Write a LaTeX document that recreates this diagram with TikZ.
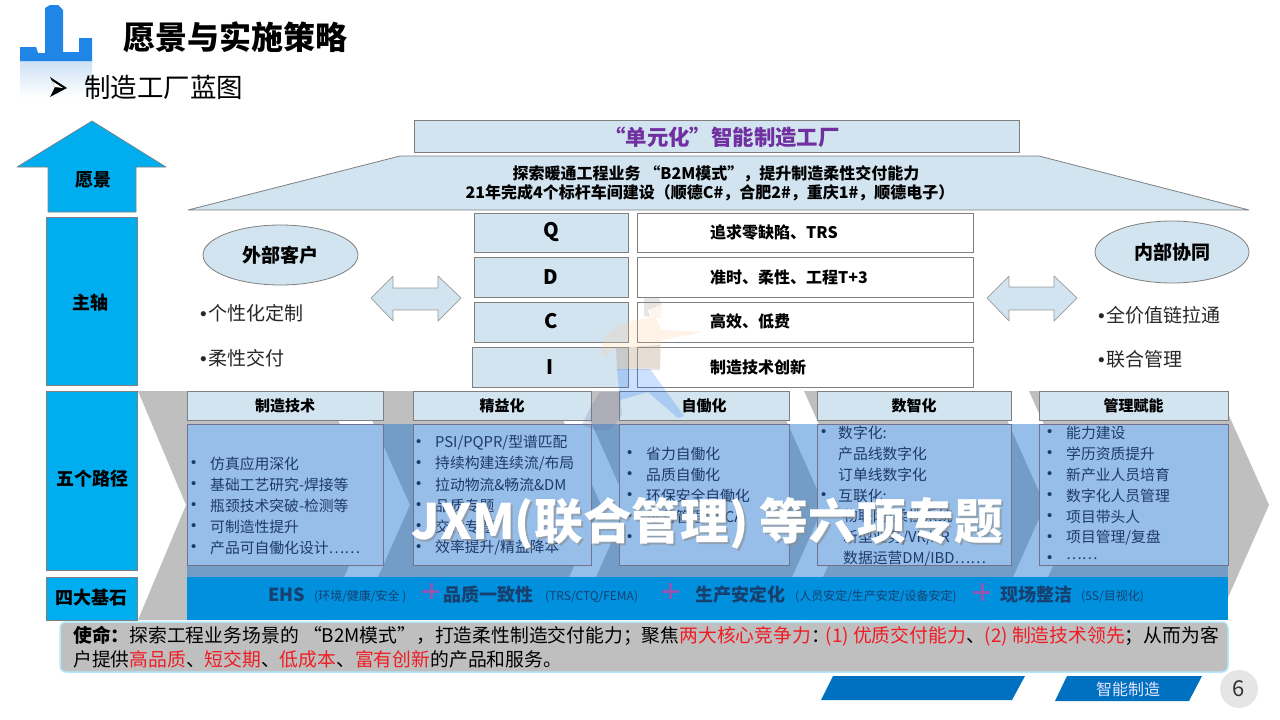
\documentclass[tikz,border=0pt]{standalone}
\usepackage{fontspec}
\setmainfont{Noto Sans CJK SC}
\newfontfamily\bulfont{Liberation Sans}
\usetikzlibrary{shapes.geometric,calc}
\definecolor{palebox}{HTML}{D2E4F0}
\definecolor{sky}{HTML}{00AEEF}
\definecolor{edgegray}{HTML}{7F7F7F}
\definecolor{chev}{HTML}{BFBFBF}
\definecolor{band}{RGB}{30,119,208}
\definecolor{listbox}{HTML}{96BEE8}
\definecolor{listtxt}{HTML}{1F3A68}
\definecolor{basefill}{HTML}{0090DE}
\definecolor{basetxt}{HTML}{17406F}
\definecolor{footblue}{HTML}{0070C0}
\definecolor{missred}{HTML}{F01C24}
\definecolor{titlepurple}{HTML}{7030A0}
\newcommand\fs[1]{\fontsize{#1}{#1}\selectfont}
\newcommand\bul{{\bulfont •}}
\newcounter{lino}
\newcommand\lstline[4]{\stepcounter{lino}%
  \ifx\relax#1\relax\else\node[listitem] (b\thelino) at (#1,#3) {\bul};\fi
  \node[listitem] (t\thelino) at (#2,#3) {#4};}
\tikzset{
  side/.style={draw=edgegray,line width=.7pt,fill=sky,inner sep=0},
  sidetxt/.style={inner sep=0,font=\fs{18}\bfseries,text=black},
  pale/.style={draw=edgegray,line width=.8pt,fill=palebox,inner sep=0,text=black},
  whitebox/.style={draw=edgegray,line width=.8pt,fill=white,inner sep=0},
  hdrbox/.style={pale,font=\fs{15}\bfseries},
  listbg/.style={draw=edgegray!90!blue,line width=.7pt,fill=listbox,inner sep=0},
  listitem/.style={anchor=west,inner sep=0,yshift=-.7pt,text=listtxt,font=\fs{14.8}},
  lbl/.style={inner sep=0,text=black},
  baseb/.style={anchor=west,inner sep=0,text=basetxt,font=\fs{18}\bfseries},
  bases/.style={anchor=west,inner sep=0,text=basetxt,font=\fs{12}},
  plusmark/.style={draw=none,fill={rgb,255:red,140;green,90;blue,180}},
  wm/.style={draw=none,opacity=.2},
  miss/.style={anchor=west,inner sep=0,text=black,font=\fs{18.8}},
  sidebul/.style={anchor=west,inner sep=0,font=\fs{19},text=black!85},
  qdcitxt/.style={anchor=west,inner sep=0,font=\fs{16}\bfseries},
  qletter/.style={inner sep=0,font=\fs{20}\bfseries,text=black},
}
\begin{document}
\begin{tikzpicture}[x=1pt,y=-1pt]
\useasboundingbox (0,0) rectangle (1280,720);
% logo
\shade[top color={rgb,255:red,205;green,225;blue,245},bottom color=white] (20,61) rectangle (92,98);
\fill[color={rgb,255:red,31;green,134;blue,232}] (20,47)--(36,47)--(38,53)--(45,53)--(45,8)--(50,5)--(58,5)--(63,10)--(63,52)--(79,52)--(79,38)--(92,38)--(92,61)--(20,61)--cycle;
% title
\node[anchor=west,inner sep=0,font=\fs{32}\bfseries] (title) at (123,37) {愿景与实施策略};
\fill[black] (50,77)--(67,88)--(50,97)--(55,87)--cycle;
\fill[white] (52,81)--(63,88)--(55,87)--cycle;
\node[anchor=west,inner sep=0,font=\fs{26.5}] (sub) at (84,87) {制造工厂蓝图};
% chevrons
\fill[chev] (138,391)--(325,391)--(376,505)--(325,620)--(138,620)--(186,505)--cycle;
\fill[chev] (359,391)--(550,391)--(601,505)--(550,620)--(359,620)--(410,505)--cycle;
\fill[chev] (577,391)--(773,391)--(824,505)--(773,620)--(577,620)--(628,505)--cycle;
\fill[chev] (804,391)--(994,391)--(1045,505)--(994,620)--(804,620)--(855,505)--cycle;
\fill[chev] (1029,391)--(1218,391)--(1269,505)--(1218,620)--(1029,620)--(1080,505)--cycle;
\fill[band,opacity=.47] (187,424) rectangle (1228,577);
% left column
\draw[draw=edgegray,line width=.7pt,fill=sky,line join=round] (92,121)--(166,167)--(136,167)--(136,212)--(48,212)--(48,167)--(17,167)--cycle;
\node[sidetxt] (vision) at (93,180) {愿景};
\node[side,minimum width=91,minimum height=168] (axis) at (91.5,301) {};
\node[sidetxt] (axist) at (90,302.5) {主轴};
\node[side,minimum width=91,minimum height=179] (paths) at (91.5,480.5) {};
\node[sidetxt] (pathst) at (92,478.5) {五个路径};
\node[side,minimum width=91,minimum height=43] (bases) at (91.5,598.5) {};
\node[sidetxt] (basest) at (91.5,598) {四大基石};
% top
\node[pale,minimum width=605,minimum height=32] (factory) at (716.5,136) {};
\node[inner sep=0,text=titlepurple,font=\fs{21.4}\bfseries] (factoryt) at (722,137) {“单元化”智能制造工厂};
\draw[draw=edgegray,line width=.8pt,fill=palebox,line join=round] (188,210)--(400,156)--(1039,156)--(1249,210)--cycle;
\node[lbl,font=\fs{16}\bfseries] (roofa) at (716,174) {探索暖通工程业务 “B2M模式”，提升制造柔性交付能力};
\node[lbl,font=\fs{16}\bfseries] (roofb) at (710,193) {21年完成4个标杆车间建设（顺德C\#，合肥2\#，重庆1\#，顺德电子）};
% QDCI
\node[pale,minimum width=154,minimum height=39] (q) at (551,232.5) {};
\node[pale,minimum width=154,minimum height=40] (d) at (551,277) {};
\node[pale,minimum width=154,minimum height=40] (c) at (551,322) {};
\node[pale,minimum width=156,minimum height=40] (i) at (550,367) {};
\node[qletter] (qa) at (551,232) {Q};
\node[qletter] (da) at (551,277) {D};
\node[qletter] (ca) at (551,321) {C};
\node[qletter] (ia) at (550,367) {I};
\node[whitebox,minimum width=336,minimum height=39] (qw) at (805,232.5) {};
\node[whitebox,minimum width=336,minimum height=40] (dw) at (805,277) {};
\node[whitebox,minimum width=336,minimum height=40] (cw) at (805,322) {};
\node[whitebox,minimum width=336,minimum height=40] (iw) at (805,367) {};
\node[qdcitxt] (qt) at (710,232) {追求零缺陷、TRS};
\node[qdcitxt] (dt) at (710,277) {准时、柔性、工程T+3};
\node[qdcitxt] (ct) at (710,321) {高效、低费};
\node[qdcitxt] (it) at (710,367) {制造技术创新};
% ellipses
\node[ellipse,pale,minimum width=155,minimum height=60,font=\fs{19}\bfseries] (ext) at (280.5,255) {外部客户};
\node[ellipse,pale,minimum width=154,minimum height=62,font=\fs{19}\bfseries] (int) at (1172,252) {内部协同};
% double arrows
\draw[draw=edgegray!80,line width=.7pt,fill=palebox,line join=round] (371,298)--(393,276)--(393,288)--(438,288)--(438,276)--(461,298)--(438,321)--(438,310)--(393,310)--(393,321)--cycle;
\draw[draw=edgegray!80,line width=.7pt,fill=palebox,line join=round] (987,298)--(1009,276)--(1009,287)--(1054,287)--(1054,276)--(1077,298)--(1054,321)--(1054,310)--(1009,310)--(1009,321)--cycle;
% bullets beside
\node[sidebul] (e1) at (200,313) {\bul\hspace{1.2pt}个性化定制};
\node[sidebul] (e2) at (200,358) {\bul\hspace{1.2pt}柔性交付};
\node[sidebul] (n1) at (1098,315) {\bul\hspace{1.2pt}全价值链拉通};
\node[sidebul] (n2) at (1098,359) {\bul\hspace{1.2pt}联合管理};
% headers
\node[hdrbox,minimum width=196,minimum height=29] (h1) at (285,405.5) {制造技术};
\node[hdrbox,minimum width=178,minimum height=29] (h2) at (502,405.5) {精益化};
\node[hdrbox,minimum width=170,minimum height=29] (h3) at (704,405.5) {自働化};
\node[hdrbox,minimum width=194,minimum height=29] (h4) at (914,405.5) {数智化};
\node[hdrbox,minimum width=189,minimum height=29] (h5) at (1133.5,405.5) {管理赋能};
% list boxes
\node[listbg,minimum width=196,minimum height=141] (c1) at (285,494.5) {};
\node[listbg,minimum width=178,minimum height=141] (c2) at (502,494.5) {};
\node[listbg,minimum width=170,minimum height=141] (c3) at (704,494.5) {};
\node[listbg,minimum width=194,minimum height=141] (c4) at (914,494.5) {};
\node[listbg,minimum width=189,minimum height=141] (c5) at (1133.5,494.5) {};
% list 1
\lstline{191}{210}{463}{仿真应用深化}
\lstline{191}{210}{484}{基础工艺研究-焊接等}
\lstline{191}{210}{505}{瓶颈技术突破-检测等}
\lstline{191}{210}{526}{可制造性提升}
\lstline{191}{210}{547}{产品可自働化设计……}
% list 2
\lstline{416}{435}{442}{PSI/PQPR/型谱匹配}
\lstline{416}{435}{463}{持续构建连续流/布局}
\lstline{416}{435}{484}{拉动物流\&畅流\&DM}
\lstline{416}{435}{505}{品质专题}
\lstline{416}{435}{526}{交付专题}
\lstline{416}{435}{547}{效率提升/精益降本}
% list 3
\lstline{627}{646}{453}{省力自働化}
\lstline{627}{646}{474}{品质自働化}
\lstline{627}{646}{495}{环保安全自働化}
\lstline{627}{646}{516}{运营管理PDCA}
\node[listitem] (b3e) at (627,537) {\bul};
% list 4
\lstline{821}{838}{432}{数字化:}
\lstline{}{838}{453}{产品线数字化}
\lstline{}{838}{474}{订单线数字化}
\lstline{821}{838}{495}{互联化:}
\lstline{}{843}{516}{物联网/柔性系统}
\lstline{}{843}{537}{新型业务/VR/AR}
\lstline{}{843}{558}{数据运营DM/IBD……}
% list 5
\lstline{1047}{1066}{432}{能力建设}
\lstline{1047}{1066}{453}{学历资质提升}
\lstline{1047}{1066}{474}{新产业人员培育}
\lstline{1047}{1066}{495}{数字化人员管理}
\lstline{1047}{1066}{516}{项目带头人}
\lstline{1047}{1066}{537}{项目管理/复盘}
\lstline{1047}{1066}{558}{……}
% base band
\fill[basefill] (187,577) rectangle (1228,620);
\node[baseb] (s1) at (268,595) {EHS};
\node[bases] (s2) at (314,597) {(环境/健康/安全 )};
\node[baseb] (s3) at (443,595) {品质一致性};
\node[bases] (s4) at (545,597) {(TRS/CTQ/FEMA)};
\node[baseb] (s5) at (695,595) {生产安定化};
\node[bases] (s6) at (795,597) {(人员安定/生产安定/设备安定)};
\node[baseb] (s7) at (1000,595) {现场整洁};
\node[bases] (s8) at (1081,597) {(5S/目视化)};
\fill[plusmark] (429.5,583) rectangle (432.5,599); \fill[plusmark] (422,589.5) rectangle (439,592.5);
\fill[plusmark] (668.5,583) rectangle (671.5,599); \fill[plusmark] (662,589.5) rectangle (679,592.5);
\fill[plusmark] (980.5,583) rectangle (983.5,601); \fill[plusmark] (973,590.5) rectangle (990,593.5);
% watermark runner
\fill[wm,fill=gray] (644,298)--(658,297)--(662,304)--(648,310)--(650,317)--(644,316)--cycle;
\fill[wm,fill=orange!40] (650,306)--(662,305)--(661,318)--(651,318)--cycle;
\fill[wm,fill=orange!45] (602,355) .. controls (598,330) and (625,318) .. (655,318) -- (662,330) -- (704,332) -- (662,340) -- (660,368) -- (617,368) -- (616,345) -- (606,358) -- cycle;
\fill[wm,fill=gray] (616,348)--(660,345)--(660,370)--(617,370)--cycle;
\fill[wm,fill=blue!60!cyan] (617,369)--(650,369)--(684,416)--(678,418)--(648,392)--(620,400)--cycle;
\fill[wm,fill=gray!80!blue] (582,425)--(590,408)--(600,392)--(620,392)--(622,415)--(610,430)--(595,430)--cycle;
% big text
\node[inner sep=0,font=\fs{48.7}\bfseries,text=black!45,opacity=.6] (bigs) at (709.5,525) {JXM(联合管理) 等六项专题};
\node[inner sep=0,font=\fs{48.7}\bfseries,text=white] (big) at (707.5,523) {JXM(联合管理) 等六项专题};
% mission
\draw[draw=blue!30!cyan!30,line width=1.5pt,fill=chev,rounded corners=6pt] (60,622) rectangle (1228,672);
\node[miss] (m1) at (73,636) {\textbf{使命：}探索工程业务场景的 “B2M模式”，打造柔性制造交付能力；聚焦\textcolor{missred}{两大核心竞争力}：\hspace{-4pt}\textcolor{missred}{(1) 优质交付能力}、\textcolor{missred}{(2) 制造技术领先}；从而为客};
\node[miss] (m2) at (73,659.5) {户提供\textcolor{missred}{高品质}、\textcolor{missred}{短交期}、\textcolor{missred}{低成本}、\textcolor{missred}{富有创新}的产品和服务。};
% footer
\fill[footblue] (833,676)--(1025,676)--(1012,700)--(821,700)--cycle;
\fill[footblue] (1067,676)--(1202,676)--(1189,701)--(1055,701)--cycle;
\node[inner sep=0,text=white!90!blue,font=\fs{16}] (foot) at (1128,689) {智能制造};
\node[circle,fill=black!10,inner sep=0,minimum size=38,text=black!80,font=\fs{22}] (page) at (1239,689) {6};
\end{tikzpicture}
\end{document}
